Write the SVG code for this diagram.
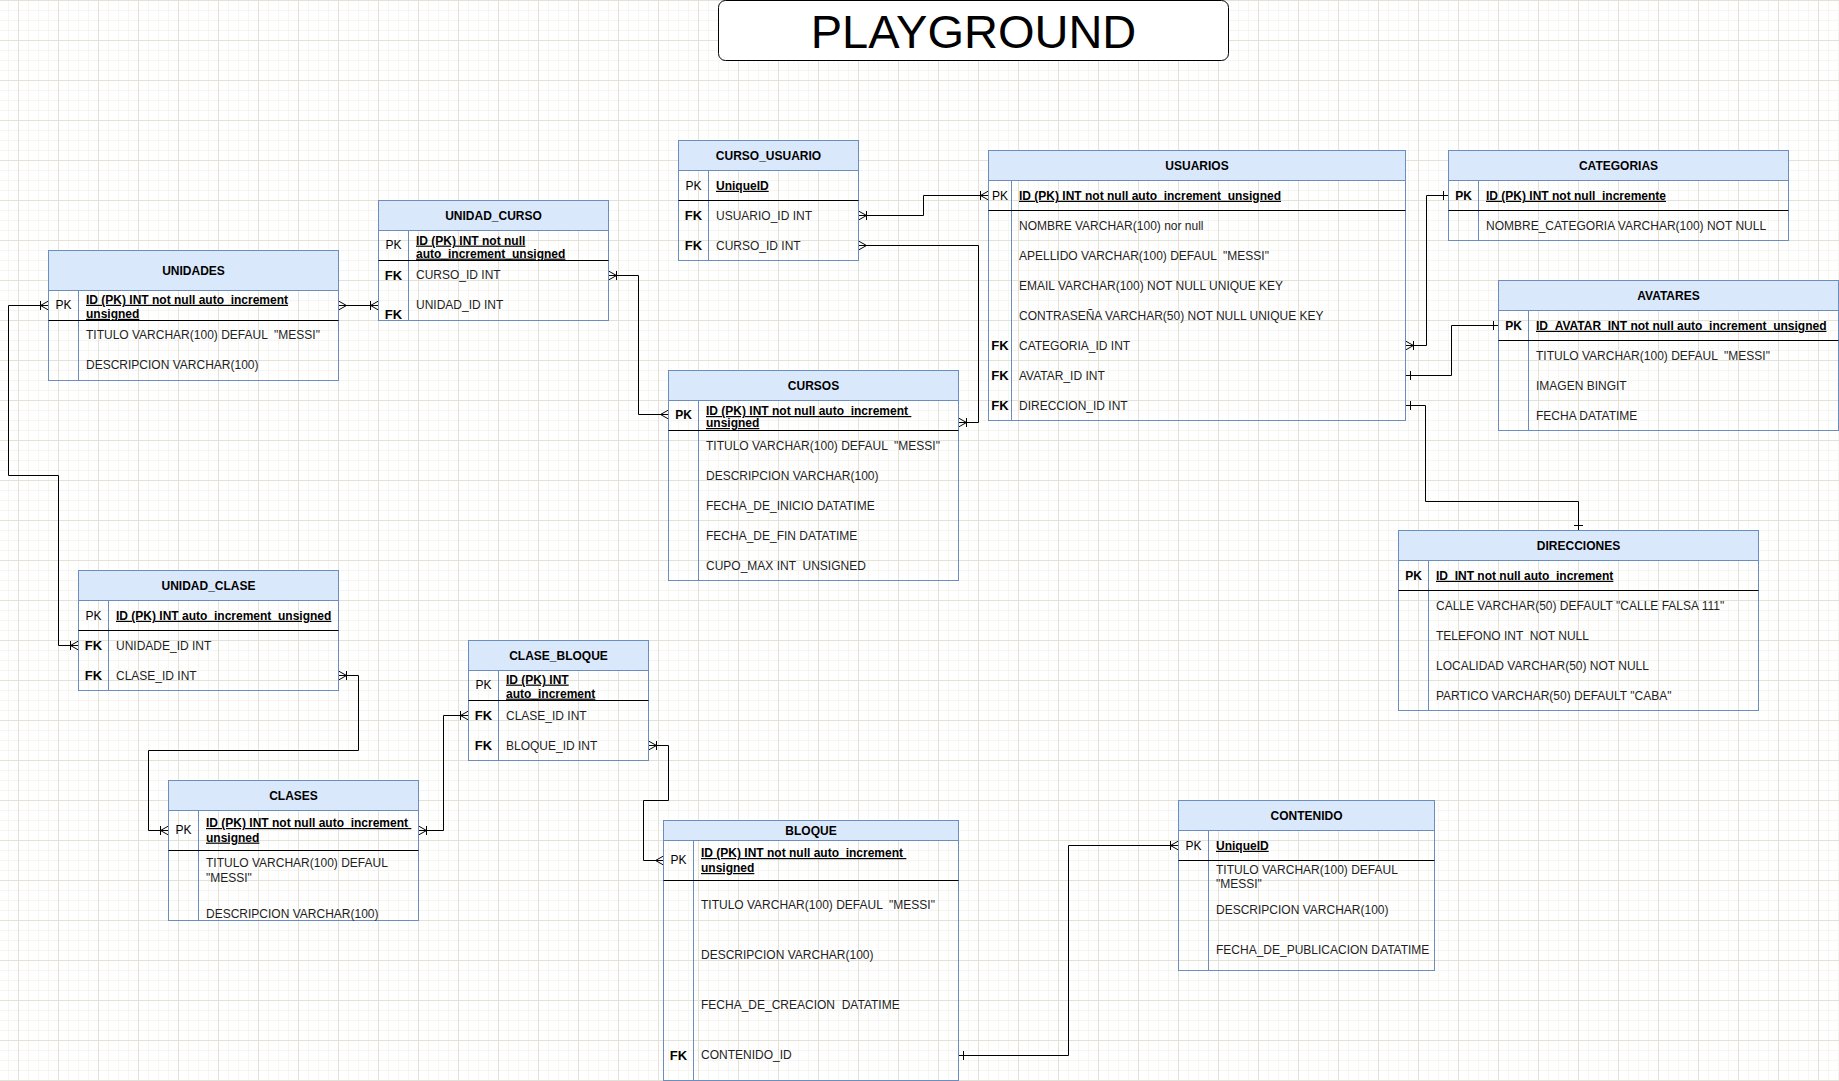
<svg xmlns="http://www.w3.org/2000/svg" width="1839" height="1081" viewBox="0 0 1839 1081" xml:space="preserve">
<defs>
<pattern id="grid" x="18" y="0" width="40" height="40" patternUnits="userSpaceOnUse">
<rect x="10" y="0" width="1" height="40" fill="#f6f5f0"/>
<rect x="20" y="0" width="1" height="40" fill="#f6f5f0"/>
<rect x="30" y="0" width="1" height="40" fill="#f6f5f0"/>
<rect x="0" y="10" width="40" height="1" fill="#f6f5f0"/>
<rect x="0" y="20" width="40" height="1" fill="#f6f5f0"/>
<rect x="0" y="30" width="40" height="1" fill="#f6f5f0"/>
<rect x="0" y="0" width="1" height="40" fill="#e4e1d7"/>
<rect x="0" y="0" width="40" height="1" fill="#e4e1d7"/>
</pattern>
<marker id="mMany" markerUnits="userSpaceOnUse" markerWidth="20" markerHeight="20" viewBox="-10 -10 20 20" refX="0" refY="0" orient="auto-start-reverse" overflow="visible">
<path d="M0,-4.5 L-8,0 L0,4.5" fill="none" stroke="#000" stroke-width="1"/>
</marker>
<marker id="mOneMany" markerUnits="userSpaceOnUse" markerWidth="20" markerHeight="20" viewBox="-10 -10 20 20" refX="0" refY="0" orient="auto-start-reverse" overflow="visible">
<path d="M0,-4.5 L-8,0 L0,4.5 M-8,-4.5 L-8,4.5" fill="none" stroke="#000" stroke-width="1"/>
</marker>
<marker id="mOne" markerUnits="userSpaceOnUse" markerWidth="20" markerHeight="20" viewBox="-10 -10 20 20" refX="0" refY="0" orient="auto-start-reverse" overflow="visible">
<path d="M-5,-4.5 L-5,4.5" fill="none" stroke="#000" stroke-width="1"/>
</marker>
</defs>
<style>
.hdr { fill:#dae8fc; stroke:#6c8ebf; stroke-width:1; }
.tbl { fill:none; stroke:#6c8ebf; stroke-width:1; }
.kc { stroke:#6c8ebf; stroke-width:1; }
.sep { stroke:#000; stroke-width:1; }
text { font-family:"Liberation Sans", Arial, Helvetica, sans-serif; font-size:12px; fill:#1e1e1e; white-space:pre; }
.h { font-weight:bold; text-anchor:middle; fill:#000; }
.k { text-anchor:middle; fill:#000; }
.kb { text-anchor:middle; font-weight:bold; fill:#000; }
.fk { text-anchor:middle; font-weight:bold; font-size:13px; fill:#000; }
.pk { font-weight:bold; text-decoration:underline; fill:#000; }
.title { font-size:47px; text-anchor:middle; fill:#000; }
#connectors path { fill:none; stroke:#000; stroke-width:1; }
</style>
<rect x="0" y="0" width="1839" height="1081" fill="#ffffff"/>
<rect x="0" y="0" width="1839" height="1081" fill="url(#grid)"/>

<g id="title">
<rect x="718.5" y="0.5" width="510" height="60" rx="7" ry="7" fill="#ffffff" stroke="#000" stroke-width="1"/>
<text class="title" x="973.5" y="47.5">PLAYGROUND</text>
</g>

<g id="connectors">
<path d="M48.5,305.5 H8.5 V475.5 H58.5 V645.5 H78.5" marker-start="url(#mOneMany)" marker-end="url(#mOneMany)"/>
<path d="M338.5,305.5 H378.5" marker-start="url(#mMany)" marker-end="url(#mOneMany)"/>
<path d="M608.5,275.5 H638.5 V414.5 H668.5" marker-start="url(#mOneMany)" marker-end="url(#mMany)"/>
<path d="M858.5,215.5 H923.5 V195.5 H988.5" marker-start="url(#mOneMany)" marker-end="url(#mOneMany)"/>
<path d="M858.5,245.5 H978.5 V422.5 H958.5" marker-start="url(#mMany)" marker-end="url(#mOneMany)"/>
<path d="M1405.5,345.5 H1426.5 V195.5 H1448.5" marker-start="url(#mOneMany)" marker-end="url(#mOne)"/>
<path d="M1405.5,375.5 H1451.5 V325.5 H1498.5" marker-start="url(#mOne)" marker-end="url(#mOne)"/>
<path d="M1405.5,405.5 H1425.5 V501.5 H1578.5 V530.5" marker-start="url(#mOne)" marker-end="url(#mOne)"/>
<path d="M338.5,675.5 H358.5 V750.5 H148.5 V830.5 H168.5" marker-start="url(#mOneMany)" marker-end="url(#mOneMany)"/>
<path d="M418.5,830.5 H443.5 V715.5 H468.5" marker-start="url(#mOneMany)" marker-end="url(#mOneMany)"/>
<path d="M648.5,745.5 H668.5 V800.5 H643.5 V860.5 H663.5" marker-start="url(#mOneMany)" marker-end="url(#mMany)"/>
<path d="M958.5,1055.5 H1068.5 V845.5 H1178.5" marker-start="url(#mOne)" marker-end="url(#mOneMany)"/>
</g>

<g id="unidades">
<rect class="hdr" x="48.5" y="250.5" width="290" height="40"/>
<rect class="tbl" x="48.5" y="250.5" width="290" height="130"/>
<line class="kc" x1="78.5" y1="290.5" x2="78.5" y2="380.5"/>
<line class="sep" x1="48.5" y1="320.5" x2="338.5" y2="320.5"/>
<text class="h" x="193.5" y="274.8">UNIDADES</text>
<text class="k" x="63.5" y="309.3">PK</text>
<text class="pk" x="86" y="303.8">ID (PK) INT not null auto_increment</text>
<text class="pk" x="86" y="317.8">unsigned</text>
<text x="86" y="339.3">TITULO VARCHAR(100) DEFAUL  "MESSI"</text>
<text x="86" y="369.3">DESCRIPCION VARCHAR(100)</text>
</g>

<g id="unidad_curso">
<rect class="hdr" x="378.5" y="200.5" width="230" height="30"/>
<rect class="tbl" x="378.5" y="200.5" width="230" height="120"/>
<line class="kc" x1="408.5" y1="230.5" x2="408.5" y2="320.5"/>
<line class="sep" x1="378.5" y1="260.5" x2="608.5" y2="260.5"/>
<text class="h" x="493.5" y="219.8">UNIDAD_CURSO</text>
<text class="k" x="393.5" y="249.3">PK</text>
<text class="pk" x="416" y="244.6">ID (PK) INT not null</text>
<text class="pk" x="416" y="257.6">auto_increment_unsigned</text>
<text class="fk" x="393.5" y="279.7">FK</text>
<text x="416" y="279.3">CURSO_ID INT</text>
<text class="fk" x="393.5" y="319.2">FK</text>
<text x="416" y="309.3">UNIDAD_ID INT</text>
</g>

<g id="curso_usuario">
<rect class="hdr" x="678.5" y="140.5" width="180" height="30"/>
<rect class="tbl" x="678.5" y="140.5" width="180" height="120"/>
<line class="kc" x1="708.5" y1="170.5" x2="708.5" y2="260.5"/>
<line class="sep" x1="678.5" y1="200.5" x2="858.5" y2="200.5"/>
<text class="h" x="768.5" y="159.8">CURSO_USUARIO</text>
<text class="k" x="693.5" y="189.8">PK</text>
<text class="pk" x="716" y="189.8">UniqueID</text>
<text class="fk" x="693.5" y="220.2">FK</text>
<text x="716" y="219.8">USUARIO_ID INT</text>
<text class="fk" x="693.5" y="250.2">FK</text>
<text x="716" y="249.8">CURSO_ID INT</text>
</g>

<g id="usuarios">
<rect class="hdr" x="988.5" y="150.5" width="417" height="30"/>
<rect class="tbl" x="988.5" y="150.5" width="417" height="270"/>
<line class="kc" x1="1011.5" y1="180.5" x2="1011.5" y2="420.5"/>
<line class="sep" x1="988.5" y1="210.5" x2="1405.5" y2="210.5"/>
<text class="h" x="1197" y="169.8">USUARIOS</text>
<text class="k" x="1000" y="199.8">PK</text>
<text class="pk" x="1019" y="199.8">ID (PK) INT not null auto_increment_unsigned</text>
<text x="1019" y="229.8">NOMBRE VARCHAR(100) nor null</text>
<text x="1019" y="259.8">APELLIDO VARCHAR(100) DEFAUL  "MESSI"</text>
<text x="1019" y="289.8">EMAIL VARCHAR(100) NOT NULL UNIQUE KEY</text>
<text x="1019" y="319.8">CONTRASEÑA VARCHAR(50) NOT NULL UNIQUE KEY</text>
<text class="fk" x="1000" y="350.2">FK</text>
<text x="1019" y="349.8">CATEGORIA_ID INT</text>
<text class="fk" x="1000" y="380.2">FK</text>
<text x="1019" y="379.8">AVATAR_ID INT</text>
<text class="fk" x="1000" y="410.2">FK</text>
<text x="1019" y="409.8">DIRECCION_ID INT</text>
</g>

<g id="categorias">
<rect class="hdr" x="1448.5" y="150.5" width="340" height="30"/>
<rect class="tbl" x="1448.5" y="150.5" width="340" height="90"/>
<line class="kc" x1="1478.5" y1="180.5" x2="1478.5" y2="240.5"/>
<line class="sep" x1="1448.5" y1="210.5" x2="1788.5" y2="210.5"/>
<text class="h" x="1618.5" y="169.8">CATEGORIAS</text>
<text class="kb" x="1463.5" y="199.8">PK</text>
<text class="pk" x="1486" y="199.8">ID (PK) INT not null_incremente</text>
<text x="1486" y="229.8">NOMBRE_CATEGORIA VARCHAR(100) NOT NULL</text>
</g>

<g id="avatares">
<rect class="hdr" x="1498.5" y="280.5" width="340" height="30"/>
<rect class="tbl" x="1498.5" y="280.5" width="340" height="150"/>
<line class="kc" x1="1528.5" y1="310.5" x2="1528.5" y2="430.5"/>
<line class="sep" x1="1498.5" y1="340.5" x2="1838.5" y2="340.5"/>
<text class="h" x="1668.5" y="299.8">AVATARES</text>
<text class="kb" x="1513.5" y="329.8">PK</text>
<text class="pk" x="1536" y="329.8">ID_AVATAR_INT not null auto_increment_unsigned</text>
<text x="1536" y="359.8">TITULO VARCHAR(100) DEFAUL  "MESSI"</text>
<text x="1536" y="389.8">IMAGEN BINGIT</text>
<text x="1536" y="419.8">FECHA DATATIME</text>
</g>

<g id="cursos">
<rect class="hdr" x="668.5" y="370.5" width="290" height="30"/>
<rect class="tbl" x="668.5" y="370.5" width="290" height="210"/>
<line class="kc" x1="698.5" y1="400.5" x2="698.5" y2="580.5"/>
<line class="sep" x1="668.5" y1="430.5" x2="958.5" y2="430.5"/>
<text class="h" x="813.5" y="389.8">CURSOS</text>
<text class="kb" x="683.5" y="418.6">PK</text>
<text class="pk" x="706" y="415">ID (PK) INT not null auto_increment </text>
<text class="pk" x="706" y="427">unsigned</text>
<text x="706" y="449.8">TITULO VARCHAR(100) DEFAUL  "MESSI"</text>
<text x="706" y="479.8">DESCRIPCION VARCHAR(100)</text>
<text x="706" y="509.8">FECHA_DE_INICIO DATATIME</text>
<text x="706" y="539.8">FECHA_DE_FIN DATATIME</text>
<text x="706" y="569.8">CUPO_MAX INT  UNSIGNED</text>
</g>

<g id="direcciones">
<rect class="hdr" x="1398.5" y="530.5" width="360" height="30"/>
<rect class="tbl" x="1398.5" y="530.5" width="360" height="180"/>
<line class="kc" x1="1428.5" y1="560.5" x2="1428.5" y2="710.5"/>
<line class="sep" x1="1398.5" y1="590.5" x2="1758.5" y2="590.5"/>
<text class="h" x="1578.5" y="549.8">DIRECCIONES</text>
<text class="kb" x="1413.5" y="579.8">PK</text>
<text class="pk" x="1436" y="579.8">ID_INT not null auto_increment</text>
<text x="1436" y="609.8">CALLE VARCHAR(50) DEFAULT "CALLE FALSA 111"</text>
<text x="1436" y="639.8">TELEFONO INT  NOT NULL</text>
<text x="1436" y="669.8">LOCALIDAD VARCHAR(50) NOT NULL</text>
<text x="1436" y="699.8">PARTICO VARCHAR(50) DEFAULT "CABA"</text>
</g>

<g id="unidad_clase">
<rect class="hdr" x="78.5" y="570.5" width="260" height="30"/>
<rect class="tbl" x="78.5" y="570.5" width="260" height="120"/>
<line class="kc" x1="108.5" y1="600.5" x2="108.5" y2="690.5"/>
<line class="sep" x1="78.5" y1="630.5" x2="338.5" y2="630.5"/>
<text class="h" x="208.5" y="589.8">UNIDAD_CLASE</text>
<text class="k" x="93.5" y="619.8">PK</text>
<text class="pk" x="116" y="619.8">ID (PK) INT auto_increment_unsigned</text>
<text class="fk" x="93.5" y="650.2">FK</text>
<text x="116" y="649.8">UNIDADE_ID INT</text>
<text class="fk" x="93.5" y="680.2">FK</text>
<text x="116" y="679.8">CLASE_ID INT</text>
</g>

<g id="clase_bloque">
<rect class="hdr" x="468.5" y="640.5" width="180" height="30"/>
<rect class="tbl" x="468.5" y="640.5" width="180" height="120"/>
<line class="kc" x1="498.5" y1="670.5" x2="498.5" y2="760.5"/>
<line class="sep" x1="468.5" y1="700.5" x2="648.5" y2="700.5"/>
<text class="h" x="558.5" y="659.8">CLASE_BLOQUE</text>
<text class="k" x="483.5" y="689.3">PK</text>
<text class="pk" x="506" y="683.6">ID (PK) INT</text>
<text class="pk" x="506" y="697.6">auto_increment</text>
<text class="fk" x="483.5" y="720.2">FK</text>
<text x="506" y="719.8">CLASE_ID INT</text>
<text class="fk" x="483.5" y="750.2">FK</text>
<text x="506" y="749.8">BLOQUE_ID INT</text>
</g>

<g id="clases">
<rect class="hdr" x="168.5" y="780.5" width="250" height="30"/>
<rect class="tbl" x="168.5" y="780.5" width="250" height="140"/>
<line class="kc" x1="198.5" y1="810.5" x2="198.5" y2="920.5"/>
<line class="sep" x1="168.5" y1="850.5" x2="418.5" y2="850.5"/>
<text class="h" x="293.5" y="799.8">CLASES</text>
<text class="k" x="183.5" y="833.6">PK</text>
<text class="pk" x="206" y="827">ID (PK) INT not null auto_increment </text>
<text class="pk" x="206" y="841.6">unsigned</text>
<text x="206" y="867">TITULO VARCHAR(100) DEFAUL</text>
<text x="206" y="882">"MESSI"</text>
<text x="206" y="917.6">DESCRIPCION VARCHAR(100)</text>
</g>

<g id="bloque">
<rect class="hdr" x="663.5" y="820.5" width="295" height="20"/>
<rect class="tbl" x="663.5" y="820.5" width="295" height="260"/>
<line class="kc" x1="693.5" y1="840.5" x2="693.5" y2="1080.5"/>
<line class="sep" x1="663.5" y1="880.5" x2="958.5" y2="880.5"/>
<text class="h" x="811" y="834.8">BLOQUE</text>
<text class="k" x="678.5" y="864.3">PK</text>
<text class="pk" x="701" y="857">ID (PK) INT not null auto_increment </text>
<text class="pk" x="701" y="872">unsigned</text>
<text x="701" y="909.3">TITULO VARCHAR(100) DEFAUL  "MESSI"</text>
<text x="701" y="959.3">DESCRIPCION VARCHAR(100)</text>
<text x="701" y="1009.3">FECHA_DE_CREACION  DATATIME</text>
<text class="fk" x="678.5" y="1059.7">FK</text>
<text x="701" y="1059.3">CONTENIDO_ID</text>
</g>

<g id="contenido">
<rect class="hdr" x="1178.5" y="800.5" width="256" height="30"/>
<rect class="tbl" x="1178.5" y="800.5" width="256" height="170"/>
<line class="kc" x1="1208.5" y1="830.5" x2="1208.5" y2="970.5"/>
<line class="sep" x1="1178.5" y1="860.5" x2="1434.5" y2="860.5"/>
<text class="h" x="1306.5" y="819.8">CONTENIDO</text>
<text class="k" x="1193.5" y="849.8">PK</text>
<text class="pk" x="1216" y="849.8">UniqueID</text>
<text x="1216" y="874.3">TITULO VARCHAR(100) DEFAUL</text>
<text x="1216" y="887.6">"MESSI"</text>
<text x="1216" y="914">DESCRIPCION VARCHAR(100)</text>
<text x="1216" y="954.3">FECHA_DE_PUBLICACION DATATIME</text>
</g>
</svg>
